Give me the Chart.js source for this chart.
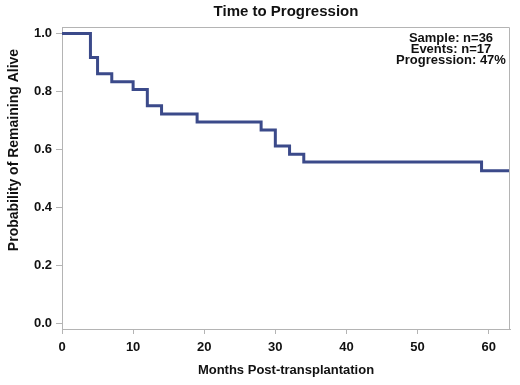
<!DOCTYPE html>
<html>
<head>
<meta charset="utf-8">
<script src="https://cdn.jsdelivr.net/npm/chart.js@4.4.1/dist/chart.umd.min.js"></script>
<style>
  html, body { margin: 0; padding: 0; background: #fff; }
  #wrap { width: 520px; height: 385px; }
</style>
</head>
<body>
<div id="wrap"><canvas id="km"></canvas></div>
<script>
// Kaplan-Meier steps
const months   = [0, 4, 5, 7, 10, 12, 14, 19, 28, 30, 32, 34, 59, 63]
const survival = [1.0, 0.917, 0.861, 0.833, 0.806, 0.75, 0.722, 0.694, 0.667, 0.611, 0.583, 0.556, 0.526, 0.526]

const xTicks = [0, 10, 20, 30, 40, 50, 60]
const yTicks = [0.0, 0.2, 0.4, 0.6, 0.8, 1.0]

const chartTitle = 'Time to Progression'
const xTitle = 'Months Post-transplantation'
const yTitle = 'Probability of Remaining Alive'
const statLines = ['Sample: n=36', 'Events: n=17', 'Progression: 47%']

const fontFam = '"Liberation Sans", Arial, sans-serif'
const navy = '#3b4a8a'
const frameGrey = '#b4b4b4'

// texts + frame drawn on top of the chart
const extrasPlugin = {
    id: 'extras',
    afterDraw(chart) {
        const ctx = chart.ctx
        const a = chart.chartArea
        ctx.save()
        // top / right frame
        ctx.strokeStyle = frameGrey
        ctx.lineWidth = 1
        ctx.beginPath()
        ctx.moveTo(a.left, a.top + 0.5)
        ctx.lineTo(a.right - 0.5, a.top + 0.5)
        ctx.lineTo(a.right - 0.5, a.bottom)
        ctx.stroke()

        ctx.fillStyle = '#111'
        ctx.textAlign = 'center'
        ctx.textBaseline = 'middle'
        ctx.font = 'bold 15px ' + fontFam
        ctx.fillText(chartTitle, (a.left + a.right) / 2, 12)

        ctx.font = 'bold 13px ' + fontFam
        ctx.fillText(xTitle, (a.left + a.right) / 2, 370)

        // stats box
        statLines.forEach((t, i) => {
            ctx.fillText(t, 451, 38.5 + i * 11)
        })

        ctx.translate(14, 150)
        ctx.rotate(-Math.PI / 2)
        ctx.font = 'bold 14px ' + fontFam
        ctx.fillText(yTitle, 0, 0)
        ctx.restore()
    }
}

const ctx = document.getElementById('km').getContext('2d')
new Chart(ctx, {
    type: 'line',
    data: {
        datasets: [{
            data: months.map((m, i) => ({ x: m, y: survival[i] })),
            borderColor: navy,
            borderWidth: 3,
            pointRadius: 0,
            stepped: true,
            fill: false
        }]
    },
    options: {
        responsive: true,
        maintainAspectRatio: false,
        animation: false,
        layout: { padding: { top: 27, right: 10, left: 0, bottom: 0 } },
        plugins: {
            legend: { display: false },
            title: { display: false },
            tooltip: { enabled: false }
        },
        scales: {
            x: {
                type: 'linear',
                min: 0,
                max: 63,
                afterBuildTicks: s => { s.ticks = xTicks.map(v => ({ value: v })) },
                afterFit: s => { s.height = 56 },
                grid: { drawOnChartArea: false, drawTicks: true, tickLength: 5, color: frameGrey },
                border: { display: true, color: frameGrey },
                ticks: {
                    color: '#111',
                    padding: 6,
                    maxRotation: 0,
                    font: { family: fontFam, size: 13, weight: 'bold' }
                }
            },
            y: {
                type: 'linear',
                min: -0.02,
                max: 1.022,
                afterBuildTicks: s => { s.ticks = yTicks.map(v => ({ value: v })) },
                afterFit: s => { s.width = 62 },
                grid: { drawOnChartArea: false, drawTicks: true, tickLength: 6, color: frameGrey },
                border: { display: true, color: frameGrey },
                ticks: {
                    color: '#111',
                    padding: 4,
                    font: { family: fontFam, size: 13, weight: 'bold' },
                    callback: v => v.toFixed(1)
                }
            }
        }
    },
    plugins: [extrasPlugin]
})
</script>
</body>
</html>
